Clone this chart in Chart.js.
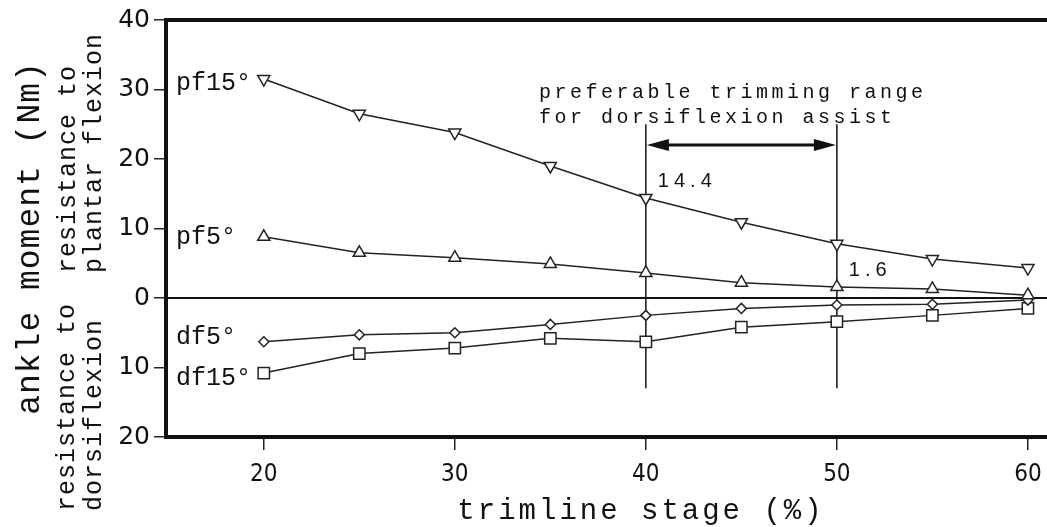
<!DOCTYPE html>
<html>
<head>
<meta charset="utf-8">
<script src="https://cdn.jsdelivr.net/npm/chart.js@4.4.1/dist/chart.umd.min.js"></script>
<style>
  html, body { margin: 0; padding: 0; background: #fff; }
  #contenedor { width: 1047px; height: 527px; }
</style>
</head>
<body>
<div id="contenedor"><canvas id="grafico"></canvas></div>
<script>
// Datos: momento del tobillo (Nm) según la etapa de recorte (%)
// positivo = resistencia a la flexión plantar, negativo = resistencia a la dorsiflexión
const etapas = [20, 25, 30, 35, 40, 45, 50, 55, 60];
const pf15 = [31.5, 26.5, 23.8, 19.0, 14.4, 10.9, 7.8, 5.6, 4.3];
const pf5 = [8.8, 6.5, 5.8, 4.9, 3.6, 2.2, 1.6, 1.3, 0.4];
const df5 = [-6.3, -5.3, -5.0, -3.8, -2.5, -1.5, -1.0, -0.9, -0.3];
const df15 = [-10.8, -8.0, -7.2, -5.8, -6.3, -4.2, -3.4, -2.5, -1.5];
const nombresSeries = ["pf15°", "pf5°", "df5°", "df15°"];

const ticksY = [40, 30, 20, 10, 0, -10, -20];
const ticksX = [20, 30, 40, 50, 60];

// rango preferible de recorte y valores anotados
const rangoPreferible = [40, 50];
const textoRango = ["preferable trimming range", "for dorsiflexion assist"];
const notas = [
  { x: 40, y: 14.4, texto: "14.4" },
  { x: 50, y: 1.6, texto: "1.6" }
];

const NEGRO = "#111";

function serie(valores, forma, rotacion, radio) {
  return {
    data: etapas.map((x, i) => ({ x: x, y: valores[i] })),
    borderColor: "#222",
    borderWidth: 1.5,
    pointStyle: forma,
    pointRotation: rotacion,
    pointRadius: radio,
    pointHoverRadius: radio,
    pointBackgroundColor: "#fff",
    pointBorderColor: "#222",
    pointBorderWidth: 1.5,
    showLine: true,
    tension: 0,
    clip: false
  };
}

function textoVertical(ctx, texto, x, y, alineacion, fuente, espacio) {
  ctx.save();
  ctx.translate(x, y);
  ctx.rotate(-Math.PI / 2);
  ctx.font = fuente;
  ctx.letterSpacing = espacio;
  ctx.textAlign = alineacion;
  ctx.textBaseline = "middle";
  ctx.fillStyle = NEGRO;
  ctx.fillText(texto, 0, 0);
  ctx.restore();
}

function flecha(ctx, x, y, dir) {
  // punta de flecha rellena, dir = 1 apunta a la derecha, -1 a la izquierda
  ctx.beginPath();
  ctx.moveTo(x, y);
  ctx.lineTo(x - dir * 22, y - 6);
  ctx.lineTo(x - dir * 22, y + 6);
  ctx.closePath();
  ctx.fill();
}

const dibujoExtra = {
  id: "dibujoExtra",
  beforeDatasetsDraw(chart) {
    const { ctx, chartArea, scales } = chart;
    // línea del cero
    const y0 = scales.y.getPixelForValue(0);
    ctx.save();
    ctx.strokeStyle = NEGRO;
    ctx.lineWidth = 2;
    ctx.beginPath();
    ctx.moveTo(chartArea.left, y0);
    ctx.lineTo(chart.width, y0);
    ctx.stroke();

    // líneas verticales del rango preferible
    ctx.lineWidth = 1.5;
    rangoPreferible.forEach(v => {
      const x = scales.x.getPixelForValue(v);
      ctx.beginPath();
      ctx.moveTo(x, scales.y.getPixelForValue(25));
      ctx.lineTo(x, scales.y.getPixelForValue(-13));
      ctx.stroke();
    });
    ctx.restore();
  },
  afterDraw(chart) {
    const { ctx, chartArea, scales } = chart;
    ctx.save();
    ctx.fillStyle = NEGRO;
    ctx.strokeStyle = NEGRO;

    // marco: borde superior
    ctx.lineWidth = 4;
    ctx.beginPath();
    ctx.moveTo(chartArea.left - 2, chartArea.top);
    ctx.lineTo(chart.width, chartArea.top);
    ctx.stroke();

    // flecha doble entre 40 y 50
    const xa = scales.x.getPixelForValue(rangoPreferible[0]);
    const xb = scales.x.getPixelForValue(rangoPreferible[1]);
    const ya = scales.y.getPixelForValue(22);
    ctx.lineWidth = 3;
    ctx.beginPath();
    ctx.moveTo(xa + 10, ya);
    ctx.lineTo(xb - 10, ya);
    ctx.stroke();
    flecha(ctx, xa + 1, ya, -1);
    flecha(ctx, xb - 1, ya, 1);

    // texto del rango
    ctx.font = "20px 'Liberation Mono', monospace";
    ctx.letterSpacing = "3.5px";
    ctx.textAlign = "left";
    ctx.textBaseline = "middle";
    const xt = scales.x.getPixelForValue(34.4);
    ctx.fillText(textoRango[0], xt, scales.y.getPixelForValue(29.5));
    ctx.fillText(textoRango[1], xt, scales.y.getPixelForValue(26));

    // valores anotados
    ctx.font = "20px 'Liberation Sans', sans-serif";
    ctx.letterSpacing = "5px";
    notas.forEach(n => {
      ctx.fillText(n.texto, scales.x.getPixelForValue(n.x) + 12, scales.y.getPixelForValue(n.y) - 16);
    });

    // nombres de las series junto al primer punto
    ctx.font = "25px 'Liberation Mono', monospace";
    ctx.letterSpacing = "0px";
    const desplaz = [4, 1, -4, 5];
    [pf15, pf5, df5, df15].forEach((s, i) => {
      ctx.fillText(nombresSeries[i], chartArea.left + 10, scales.y.getPixelForValue(s[0]) + desplaz[i]);
    });

    // título del eje x
    ctx.font = "29px 'Liberation Mono', monospace";
    ctx.letterSpacing = "3px";
    ctx.textAlign = "center";
    ctx.fillText("trimline stage (%)", 641, 511);
    ctx.restore();

    // títulos verticales del eje y
    textoVertical(ctx, "ankle moment (Nm)", 30, 238, "center", "33px 'Liberation Mono', monospace", "1px");
    textoVertical(ctx, "resistance to", 68, 273, "left", "25px 'Liberation Mono', monospace", "1px");
    textoVertical(ctx, "plantar flexion", 94, 273, "left", "25px 'Liberation Mono', monospace", "1px");
    textoVertical(ctx, "resistance to", 67, 511, "left", "25px 'Liberation Mono', monospace", "1px");
    textoVertical(ctx, "dorsiflexion", 94, 511, "left", "25px 'Liberation Mono', monospace", "1px");
  }
};

const ctx = document.getElementById("grafico").getContext("2d");
new Chart(ctx, {
  type: "scatter",
  data: {
    datasets: [
      serie(pf15, "triangle", 180, 7),
      serie(pf5, "triangle", 0, 7),
      serie(df5, "rectRot", 0, 5),
      serie(df15, "rect", 0, 8)
    ]
  },
  options: {
    responsive: true,
    maintainAspectRatio: false,
    animation: false,
    layout: { autoPadding: false, padding: { top: 20, right: 0, left: 0, bottom: 0 } },
    plugins: {
      legend: { display: false },
      tooltip: { enabled: false }
    },
    scales: {
      x: {
        type: "linear",
        min: 14.88,
        max: 61,
        afterBuildTicks: scale => { scale.ticks = ticksX.map(v => ({ value: v })); },
        afterFit: scale => {
          scale.height = 90;
          scale.paddingRight = 0;
        },
        ticks: {
          color: NEGRO,
          padding: 10,
          maxRotation: 0,
          font: { family: "'Liberation Sans Narrow', 'DejaVu Sans Condensed', 'Liberation Sans', sans-serif", size: 24 }
        },
        grid: { drawOnChartArea: false, drawTicks: true, tickLength: 13, color: "#222", lineWidth: 1.5 },
        border: { display: true, color: NEGRO, width: 4 }
      },
      y: {
        type: "linear",
        min: -20,
        max: 40,
        afterBuildTicks: scale => { scale.ticks = ticksY.map(v => ({ value: v })); },
        afterFit: scale => { scale.width = 166; },
        ticks: {
          color: NEGRO,
          padding: 4,
          callback: v => Math.abs(v),
          font: { family: "'DejaVu Sans', sans-serif", size: 25 }
        },
        grid: { drawOnChartArea: false, drawTicks: true, tickLength: 12, color: "#222", lineWidth: 1.5 },
        border: { display: true, color: NEGRO, width: 4 }
      }
    }
  },
  plugins: [dibujoExtra]
});
</script>
</body>
</html>
